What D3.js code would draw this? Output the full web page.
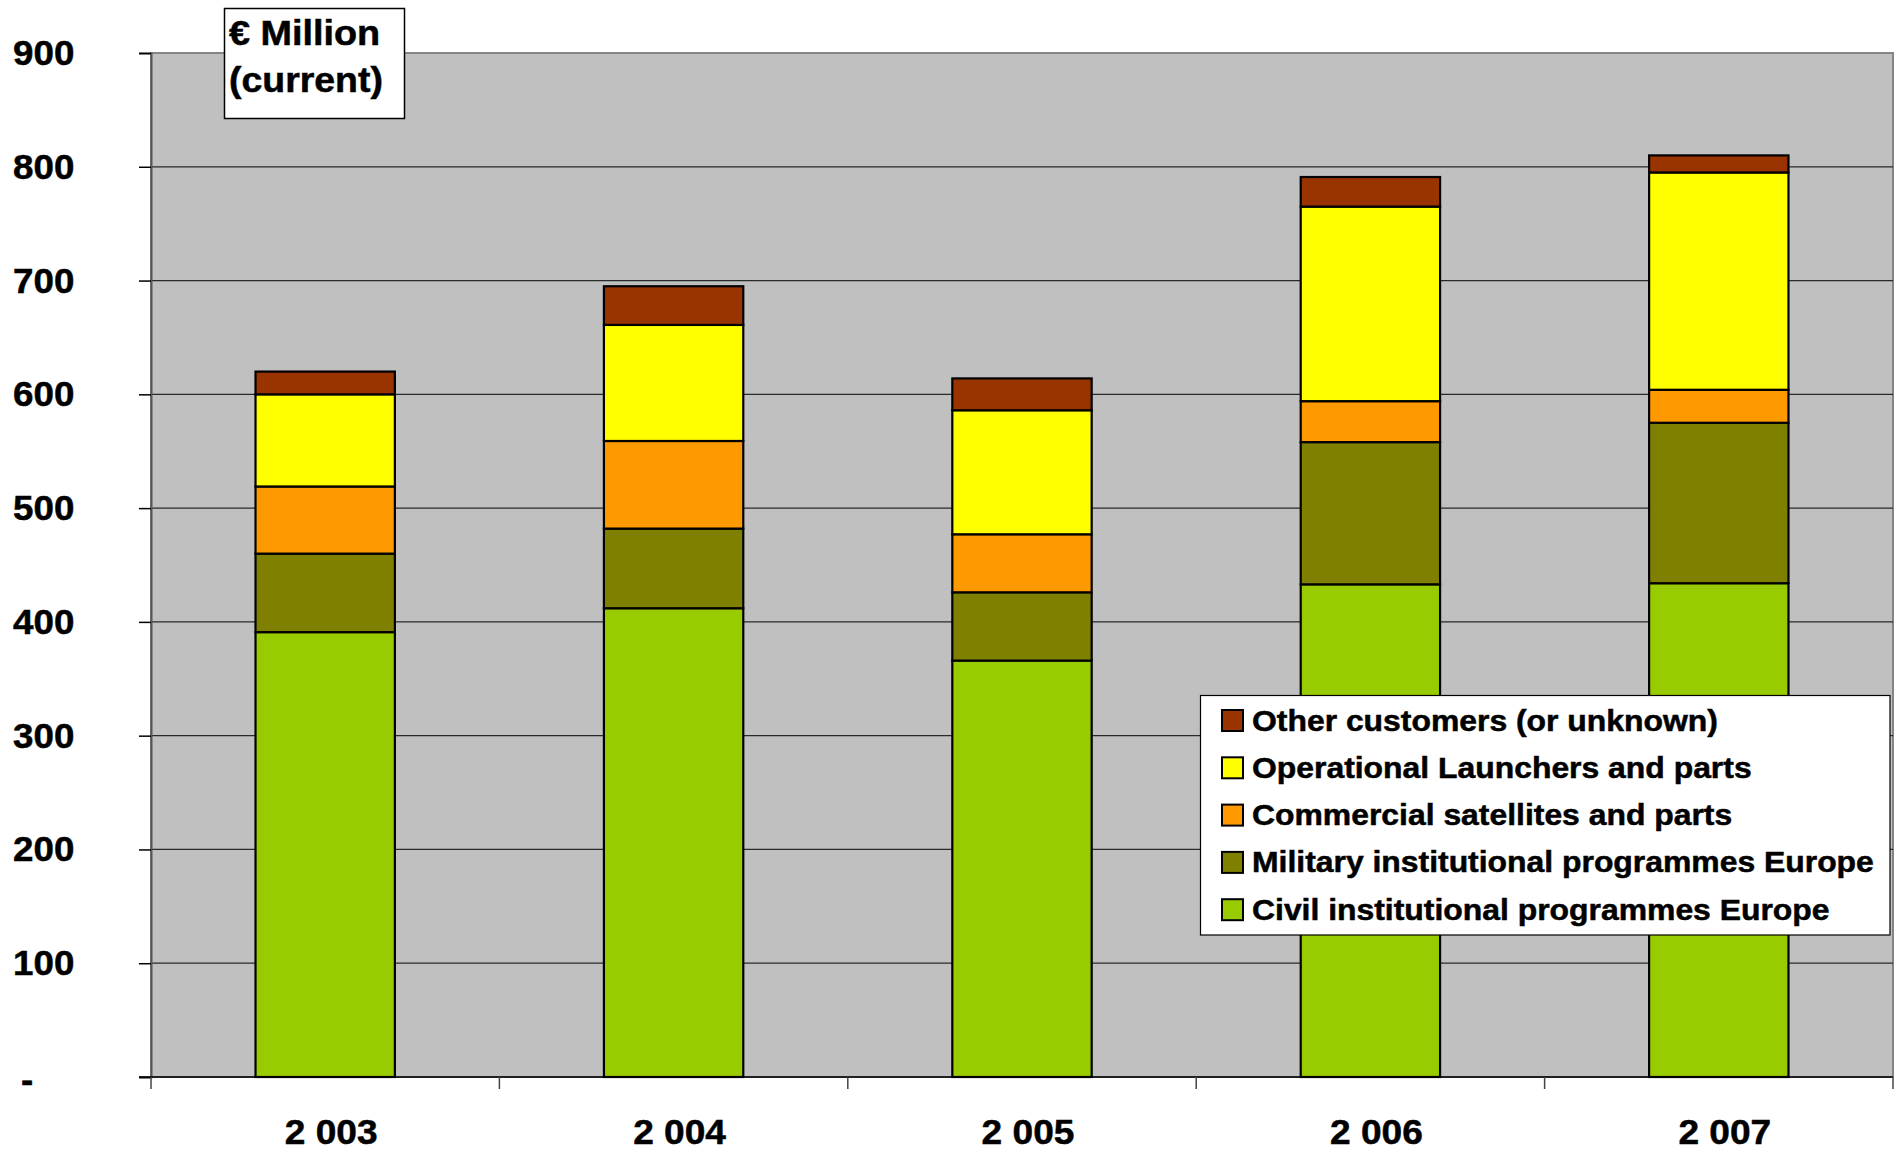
<!DOCTYPE html>
<html>
<head>
<meta charset="utf-8">
<script src="https://cdn.jsdelivr.net/npm/d3@7"></script>
<style>
  body { margin: 0; background: #fff; }
  svg text { font-family: "Liberation Sans", Arial, sans-serif; font-weight: bold; fill: #000;
             stroke: #000; stroke-width: 0.5px; }
</style>
</head>
<body>
<svg id="chart" width="1901" height="1152"></svg>
<script>
// values, € million (current)
var years = ["2 003", "2 004", "2 005", "2 006", "2 007"];
var civil      = [391, 412, 366, 433, 434];
var military   = [69, 70, 60, 125, 141];
var commercial = [59, 77, 51, 36, 29];
var launchers  = [81, 102, 109, 171, 191];
var other      = [20, 34, 28, 26, 15];

var seriesNames = ["Civil institutional programmes Europe",
                   "Military institutional programmes Europe",
                   "Commercial satellites and parts",
                   "Operational Launchers and parts",
                   "Other customers (or unknown)"];
var seriesColors = ["#99CC00", "#808000", "#FF9900", "#FFFF00", "#993300"];
var yTicks = [0, 100, 200, 300, 400, 500, 600, 700, 800, 900];

var svg = d3.select("#chart");

var plot = {left: 151, right: 1893, top: 53, bottom: 1077};

var x = d3.scaleBand()
    .domain(years)
    .range([plot.left, plot.right])
    .paddingInner(0.6)
    .paddingOuter(0.3);

var y = d3.scaleLinear()
    .domain([0, 900])
    .range([plot.bottom, plot.top]);

var table = years.map(function(yr, i) {
    return {year: yr, s0: civil[i], s1: military[i], s2: commercial[i], s3: launchers[i], s4: other[i]};
});
var stack = d3.stack().keys(["s0", "s1", "s2", "s3", "s4"]);
var layers = stack(table);

// plot background
svg.append("rect")
    .attr("x", plot.left)
    .attr("y", plot.top)
    .attr("width", plot.right - plot.left)
    .attr("height", plot.bottom - plot.top)
    .attr("fill", "#C0C0C0")
    .attr("stroke", "#858585")
    .attr("stroke-width", 2);

// gridlines
svg.append("g")
    .selectAll("line")
    .data(yTicks.filter(function(d) { return d > 0 && d < 900; }))
    .enter().append("line")
    .attr("x1", plot.left)
    .attr("x2", plot.right)
    .attr("y1", function(d) { return y(d); })
    .attr("y2", function(d) { return y(d); })
    .attr("stroke", "#2a2a2a")
    .attr("stroke-width", 1.2);

// y axis
var yAxis = svg.append("g")
    .attr("transform", "translate(" + plot.left + ",0)")
    .call(d3.axisLeft(y)
          .tickValues(yTicks)
          .tickSize(12)
          .tickPadding(61)
          .tickFormat(function(d) { return d === 0 ? "-" : d; }));
yAxis.select(".domain").attr("stroke", "#555").attr("stroke-width", 2);
yAxis.selectAll(".tick line").attr("stroke", "#000").attr("stroke-width", 1.5);
yAxis.selectAll(".tick text")
    .attr("font-size", 35)
    .attr("dy", "0.33em")
    .attr("transform", "scale(1.05,1)");
yAxis.selectAll(".tick text")
    .filter(function(d) { return d === 0; })
    .attr("text-anchor", "start")
    .attr("x", (-plot.left + 21) / 1.05)
    .attr("dy", "0.4em");

// bars
svg.append("g")
    .selectAll("g")
    .data(layers)
    .enter().append("g")
    .attr("fill", function(d, i) { return seriesColors[i]; })
    .selectAll("rect")
    .data(function(d) { return d; })
    .enter().append("rect")
    .attr("x", function(d) { return x(d.data.year); })
    .attr("y", function(d) { return y(d[1]); })
    .attr("width", x.bandwidth())
    .attr("height", function(d) { return y(d[0]) - y(d[1]); })
    .attr("stroke", "#000")
    .attr("stroke-width", 2.2);

// x axis line and category boundary ticks
svg.append("line")
    .attr("x1", plot.left - 12)
    .attr("x2", plot.right)
    .attr("y1", plot.bottom)
    .attr("y2", plot.bottom)
    .attr("stroke", "#000")
    .attr("stroke-width", 1.5);

svg.append("g")
    .selectAll("line")
    .data(d3.range(years.length + 1))
    .enter().append("line")
    .attr("x1", function(i) { return plot.left + i * x.step(); })
    .attr("x2", function(i) { return plot.left + i * x.step(); })
    .attr("y1", plot.bottom)
    .attr("y2", plot.bottom + 12)
    .attr("stroke", "#444")
    .attr("stroke-width", 1.5);

var xAxis = svg.append("g")
    .attr("transform", "translate(6," + plot.bottom + ")")
    .call(d3.axisBottom(x).tickSize(0).tickPadding(42));
xAxis.select(".domain").remove();
xAxis.selectAll(".tick text")
    .attr("font-size", 35)
    .attr("transform", "scale(1.06,1)");

// unit box
var unit = svg.append("g");
unit.append("rect")
    .attr("x", 224.5)
    .attr("y", 8.5)
    .attr("width", 180)
    .attr("height", 110)
    .attr("fill", "#fff")
    .attr("stroke", "#000")
    .attr("stroke-width", 1.5);
unit.append("text").attr("transform", "translate(229,45) scale(1.08,1)").attr("font-size", 35).text("€ Million");
unit.append("text").attr("transform", "translate(229,92) scale(1.07,1)").attr("font-size", 35).text("(current)");

// legend, top entry is the top of the stack
var legend = svg.append("g");
legend.append("rect")
    .attr("x", 1200.5)
    .attr("y", 695.5)
    .attr("width", 689.5)
    .attr("height", 239.5)
    .attr("fill", "#fff")
    .attr("stroke", "#000")
    .attr("stroke-width", 1.2);

var legendOrder = d3.range(seriesNames.length).reverse();
var item = legend.selectAll(".item")
    .data(legendOrder)
    .enter().append("g")
    .attr("class", "item")
    .attr("transform", function(d, i) { return "translate(1222," + (720.5 + i * 47.3) + ")"; });

item.append("rect")
    .attr("x", 0)
    .attr("y", -10.5)
    .attr("width", 21)
    .attr("height", 21)
    .attr("fill", function(d) { return seriesColors[d]; })
    .attr("stroke", "#000")
    .attr("stroke-width", 2);

item.append("text")
    .attr("transform", "translate(30,10) scale(1.1,1)")
    .attr("font-size", 29)
    .text(function(d) { return seriesNames[d]; });
</script>
</body>
</html>
